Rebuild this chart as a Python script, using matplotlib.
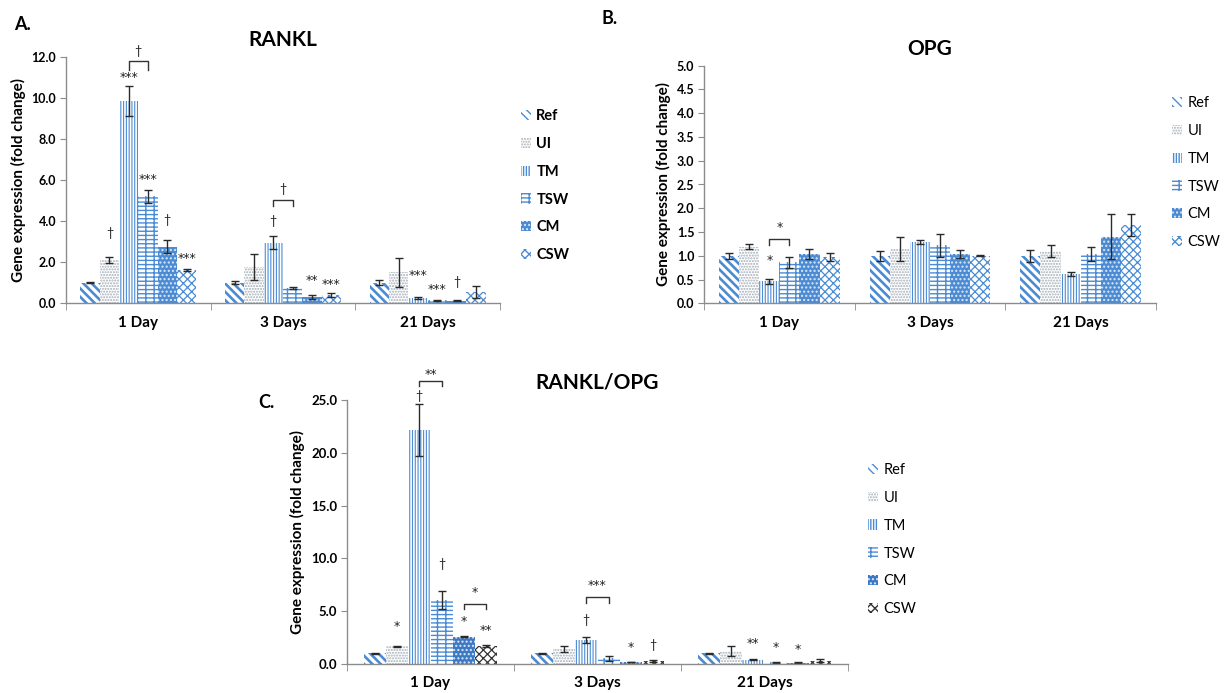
import matplotlib
matplotlib.use('Agg')
import matplotlib.pyplot as plt
from matplotlib.patches import Patch
import numpy as np

plt.rcParams['font.family'] = ['Lato', 'DejaVu Sans']

W, H = 1229, 693

groups = ['1 Day', '3 Days', '21 Days']
series = ['Ref', 'UI', 'TM', 'TSW', 'CM', 'CSW']

# values per group (rows) and series (columns)
rankl = [[1.0, 2.1, 9.85, 5.2, 2.75, 1.6],
         [0.98, 1.75, 2.95, 0.72, 0.29, 0.37],
         [1.0, 1.5, 0.24, 0.13, 0.12, 0.55]]
rankl_err = [[0.02, 0.15, 0.72, 0.3, 0.33, 0.05],
             [0.07, 0.63, 0.3, 0.05, 0.08, 0.1],
             [0.12, 0.7, 0.04, 0.03, 0.03, 0.3]]

opg = [[1.0, 1.19, 0.46, 0.86, 1.04, 0.98],
       [1.0, 1.14, 1.29, 1.22, 1.04, 1.0],
       [1.0, 1.1, 0.61, 1.03, 1.4, 1.65]]
opg_err = [[0.06, 0.05, 0.06, 0.11, 0.1, 0.08],
           [0.1, 0.25, 0.05, 0.24, 0.09, 0.01],
           [0.13, 0.13, 0.04, 0.15, 0.47, 0.23]]

ratio = [[1.0, 1.7, 22.15, 6.1, 2.56, 1.7],
         [1.0, 1.4, 2.25, 0.55, 0.19, 0.28],
         [1.0, 1.25, 0.4, 0.15, 0.12, 0.3]]
ratio_err = [[0.03, 0.05, 2.45, 0.85, 0.05, 0.08],
             [0.05, 0.3, 0.28, 0.22, 0.04, 0.1],
             [0.03, 0.5, 0.05, 0.03, 0.03, 0.15]]

# significance marks: (group, series, y, text)
rankl_marks = [(0, 1, 3.4, '†'), (0, 2, 11.0, '***'), (0, 3, 6.0, '***'),
               (0, 4, 4.03, '†'), (0, 5, 2.15, '***'), (1, 2, 4.0, '†'),
               (1, 4, 1.1, '**'), (1, 5, 0.9, '***'), (2, 2, 1.33, '***'),
               (2, 3, 0.68, '***'), (2, 4, 1.0, '†')]
opg_marks = [(0, 2, 0.91, '*')]
ratio_marks = [(0, 1, 3.54, '*'), (0, 2, 25.4, '†'), (0, 3, 9.47, '†'),
               (0, 4, 4.0, '*'), (0, 5, 3.2, '**'), (1, 2, 4.17, '†'),
               (1, 4, 1.58, '*'), (1, 5, 1.8, '†'), (2, 2, 1.96, '**'),
               (2, 3, 1.58, '*'), (2, 4, 1.33, '*')]

# brackets: (group, series a, series b, top, bottom, text y, text)
rankl_brackets = [(0, 2, 3, 11.8, 11.38, 12.28, '†'), (1, 2, 3, 5.04, 4.75, 5.58, '†')]
opg_brackets = [(0, 2, 3, 1.35, 1.23, 1.6, '*')]
ratio_brackets = [(0, 2, 3, 26.83, 26.3, 27.46, '**'), (0, 4, 5, 5.68, 5.18, 6.75, '*'),
                  (1, 2, 3, 6.31, 5.81, 7.39, '***')]

blue = '#4a8bd4'
styles = [
    dict(fc='white', ec=blue, h='\\\\\\\\', lw=1.9),
    dict(fc='white', ec='#a3adb8', h='......', lw=1.0),
    dict(fc='white', ec=blue, h='||||||', lw=0.8),
    dict(fc='white', ec=blue, h='----||', lw=1.0),
    dict(fc=blue, ec='#dce8f6', h='....', lw=1.0),
    dict(fc='white', ec=blue, h='xxxx', lw=0.9),
]

w = 0.8 / 6
x = np.arange(len(groups))


def mark(ax, xx, y, t):
    fam = ['DejaVu Sans'] if '*' in t else ['Lato', 'DejaVu Sans']
    ax.text(xx, y, t, ha='center', va='center', fontsize=9, color='#222222',
            family=fam, clip_on=False)


def panel(ax, vals, errs, marks, brackets, title, ymax, step, sty, tick_fs):
    vals = np.array(vals)
    errs = np.array(errs)
    for i, s in enumerate(series):
        st = sty[i]
        with plt.rc_context({'hatch.linewidth': st['lw']}):
            ax.bar(x + (i - 2.5) * w, vals[:, i], w, yerr=errs[:, i],
                   facecolor=st['fc'], edgecolor=st['ec'], hatch=st['h'], linewidth=0,
                   error_kw=dict(ecolor='#2a2a2a', elinewidth=1, capsize=3, capthick=1))
    for g, i, y, t in marks:
        mark(ax, g + (i - 2.5) * w, y, t)
    for g, a, b, top, bot, ty, t in brackets:
        xa = g + (a - 2.5) * w
        xb = g + (b - 2.5) * w
        ax.plot([xa, xa, xb, xb], [bot, top, top, bot], color='#333333', lw=1, clip_on=False)
        mark(ax, (xa + xb) / 2, ty, t)
    ax.set_xlim(-0.5, 2.5)
    ax.set_ylim(0, ymax)
    ax.set_yticks(np.arange(0, ymax + step / 2, step))
    ax.set_yticklabels(['%.1f' % v for v in np.arange(0, ymax + step / 2, step)],
                       fontsize=tick_fs, fontweight='bold')
    ax.set_xticks(x)
    ax.set_xticklabels(groups, fontsize=11, fontweight='bold')
    ax.set_xticks([-0.5, 0.5, 1.5, 2.5], minor=True)
    ax.tick_params(axis='x', which='major', length=0, pad=9)
    ax.tick_params(axis='x', which='minor', length=5, color='#8c8c8c', direction='out')
    ax.tick_params(axis='y', length=4, color='#8c8c8c', direction='out', pad=3)
    for sp in ['top', 'right']:
        ax.spines[sp].set_visible(False)
    for sp in ['left', 'bottom']:
        ax.spines[sp].set_color('#8c8c8c')
        ax.spines[sp].set_linewidth(1)
    ax.set_ylabel('Gene expression (fold change)', fontsize=11, fontweight='bold', labelpad=4)
    ax.set_title(title, fontsize=15, fontweight='bold', pad=8)


def legend(fig, sty, px, py, weight):
    handles = []
    for st in sty:
        with plt.rc_context({'hatch.linewidth': st['lw']}):
            handles.append(Patch(facecolor=st['fc'], edgecolor=st['ec'], hatch=st['h'], linewidth=0))
    leg = fig.legend(handles, series, loc='upper left', bbox_to_anchor=(px / W, 1 - py / H),
                     frameon=False, fontsize=10.5, handlelength=0.7, handleheight=0.7,
                     handletextpad=0.35, labelspacing=0.95, borderpad=0, borderaxespad=0)
    for t in leg.get_texts():
        t.set_fontweight(weight)


fig = plt.figure(figsize=(W / 100, H / 100), dpi=100)

axA = fig.add_axes([66 / W, 1 - 303 / H, (500 - 66) / W, (303 - 57) / H])
panel(axA, rankl, rankl_err, rankl_marks, rankl_brackets, 'RANKL', 12, 2, styles, 9)
legend(fig, styles, 521, 109, 'bold')

axB = fig.add_axes([704 / W, 1 - 303.3 / H, (1156 - 704) / W, (303.3 - 65.7) / H])
panel(axB, opg, opg_err, opg_marks, opg_brackets, 'OPG', 5, 0.5, styles, 9)
legend(fig, styles, 1172, 96, 'normal')

stylesC = [dict(s) for s in styles]
stylesC[4]['fc'] = '#3d78c2'
stylesC[5]['ec'] = '#333333'
axC = fig.add_axes([347 / W, 1 - 664 / H, (848 - 347) / W, (664 - 400) / H])
panel(axC, ratio, ratio_err, ratio_marks, ratio_brackets, 'RANKL/OPG', 25, 5, stylesC, 9.5)
legend(fig, stylesC, 868, 463, 'normal')

fig.text(22 / W, 1 - 24 / H, 'A.', fontsize=13, fontweight='bold', ha='center', va='center')
fig.text(610 / W, 1 - 18 / H, 'B.', fontsize=13, fontweight='bold', ha='center', va='center')
fig.text(266 / W, 1 - 402 / H, 'C.', fontsize=13, fontweight='bold', ha='center', va='center')

fig.savefig('out.png', dpi=100)
